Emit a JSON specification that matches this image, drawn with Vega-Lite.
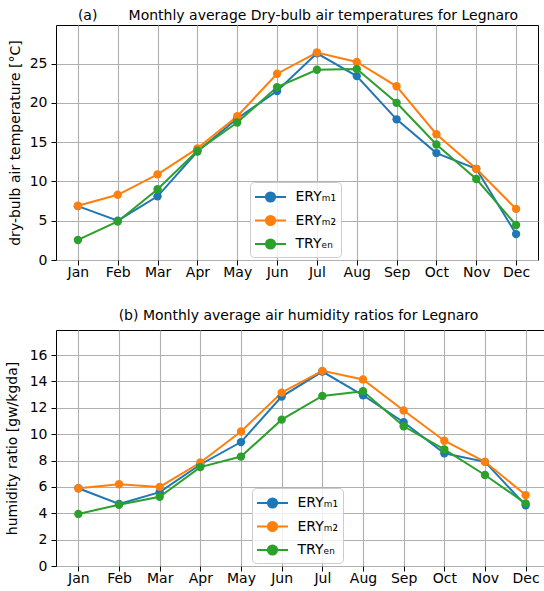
{
  "$schema": "https://vega.github.io/schema/vega-lite/v6.json",
  "padding": {"left": 4, "top": 8, "right": 0, "bottom": 0},
  "spacing": 28,
  "datasets": {
    "temp": [
      {"month": "Jan", "series": "ERYm1", "value": 6.85},
      {"month": "Feb", "series": "ERYm1", "value": 5.0},
      {"month": "Mar", "series": "ERYm1", "value": 8.1},
      {"month": "Apr", "series": "ERYm1", "value": 13.8},
      {"month": "May", "series": "ERYm1", "value": 18.0},
      {"month": "Jun", "series": "ERYm1", "value": 21.5},
      {"month": "Jul", "series": "ERYm1", "value": 26.3},
      {"month": "Aug", "series": "ERYm1", "value": 23.4},
      {"month": "Sep", "series": "ERYm1", "value": 17.9},
      {"month": "Oct", "series": "ERYm1", "value": 13.6},
      {"month": "Nov", "series": "ERYm1", "value": 11.6},
      {"month": "Dec", "series": "ERYm1", "value": 3.3},
      {"month": "Jan", "series": "ERYm2", "value": 6.9},
      {"month": "Feb", "series": "ERYm2", "value": 8.3},
      {"month": "Mar", "series": "ERYm2", "value": 10.9},
      {"month": "Apr", "series": "ERYm2", "value": 14.2},
      {"month": "May", "series": "ERYm2", "value": 18.3},
      {"month": "Jun", "series": "ERYm2", "value": 23.7},
      {"month": "Jul", "series": "ERYm2", "value": 26.4},
      {"month": "Aug", "series": "ERYm2", "value": 25.2},
      {"month": "Sep", "series": "ERYm2", "value": 22.1},
      {"month": "Oct", "series": "ERYm2", "value": 16.0},
      {"month": "Nov", "series": "ERYm2", "value": 11.6},
      {"month": "Dec", "series": "ERYm2", "value": 6.5},
      {"month": "Jan", "series": "TRYEN", "value": 2.55},
      {"month": "Feb", "series": "TRYEN", "value": 4.9},
      {"month": "Mar", "series": "TRYEN", "value": 9.0},
      {"month": "Apr", "series": "TRYEN", "value": 13.9},
      {"month": "May", "series": "TRYEN", "value": 17.5},
      {"month": "Jun", "series": "TRYEN", "value": 22.0},
      {"month": "Jul", "series": "TRYEN", "value": 24.2},
      {"month": "Aug", "series": "TRYEN", "value": 24.3},
      {"month": "Sep", "series": "TRYEN", "value": 20.0},
      {"month": "Oct", "series": "TRYEN", "value": 14.7},
      {"month": "Nov", "series": "TRYEN", "value": 10.3},
      {"month": "Dec", "series": "TRYEN", "value": 4.45}
    ],
    "hum": [
      {"month": "Jan", "series": "ERYm1", "value": 5.9},
      {"month": "Feb", "series": "ERYm1", "value": 4.7},
      {"month": "Mar", "series": "ERYm1", "value": 5.6},
      {"month": "Apr", "series": "ERYm1", "value": 7.7},
      {"month": "May", "series": "ERYm1", "value": 9.4},
      {"month": "Jun", "series": "ERYm1", "value": 12.85},
      {"month": "Jul", "series": "ERYm1", "value": 14.75},
      {"month": "Aug", "series": "ERYm1", "value": 12.95},
      {"month": "Sep", "series": "ERYm1", "value": 10.9},
      {"month": "Oct", "series": "ERYm1", "value": 8.55},
      {"month": "Nov", "series": "ERYm1", "value": 7.9},
      {"month": "Dec", "series": "ERYm1", "value": 4.6},
      {"month": "Jan", "series": "ERYm2", "value": 5.9},
      {"month": "Feb", "series": "ERYm2", "value": 6.2},
      {"month": "Mar", "series": "ERYm2", "value": 6.0},
      {"month": "Apr", "series": "ERYm2", "value": 7.85},
      {"month": "May", "series": "ERYm2", "value": 10.2},
      {"month": "Jun", "series": "ERYm2", "value": 13.15},
      {"month": "Jul", "series": "ERYm2", "value": 14.8},
      {"month": "Aug", "series": "ERYm2", "value": 14.15},
      {"month": "Sep", "series": "ERYm2", "value": 11.8},
      {"month": "Oct", "series": "ERYm2", "value": 9.5},
      {"month": "Nov", "series": "ERYm2", "value": 7.9},
      {"month": "Dec", "series": "ERYm2", "value": 5.38},
      {"month": "Jan", "series": "TRYEN", "value": 3.95},
      {"month": "Feb", "series": "TRYEN", "value": 4.65},
      {"month": "Mar", "series": "TRYEN", "value": 5.25},
      {"month": "Apr", "series": "TRYEN", "value": 7.5},
      {"month": "May", "series": "TRYEN", "value": 8.3},
      {"month": "Jun", "series": "TRYEN", "value": 11.1},
      {"month": "Jul", "series": "TRYEN", "value": 12.9},
      {"month": "Aug", "series": "TRYEN", "value": 13.25},
      {"month": "Sep", "series": "TRYEN", "value": 10.6},
      {"month": "Oct", "series": "TRYEN", "value": 8.85},
      {"month": "Nov", "series": "TRYEN", "value": 6.9},
      {"month": "Dec", "series": "TRYEN", "value": 4.75}
    ]
  },
  "resolve": {"legend": {"color": "independent"}},
  "vconcat": [
    {
      "width": 482,
      "height": 235,
      "data": {"name": "temp"},
      "title": {"text": "(a)\u00a0\u00a0\u00a0\u00a0\u00a0\u00a0\u00a0Monthly average Dry-bulb air temperatures for Legnaro", "baseline": "bottom", "offset": -12, "dx": 1},
      "mark": {"type": "line", "strokeWidth": 2, "point": {"filled": true, "size": 70, "opacity": 1}},
      "encoding": {
        "x": {"field": "month", "type": "ordinal", "sort": ["Jan","Feb","Mar","Apr","May","Jun","Jul","Aug","Sep","Oct","Nov","Dec"], "scale": {"type": "point", "padding": 0.55}, "axis": {"title": null, "labelAngle": 0, "labelPadding": 0}},
        "y": {"field": "value", "type": "quantitative", "scale": {"domain": [0, 29.9], "nice": false}, "axis": {"values": [0,5,10,15,20,25], "title": "dry-bulb air temperature [°C]", "titlePadding": 7}},
        "color": {"field": "series", "type": "nominal", "scale": {"domain": ["ERYm1","ERYm2","TRYEN"], "range": ["#1f77b4","#ff7f0e","#2ca02c"]},
          "legend": {"legendX": 194, "legendY": 157, "labelExpr": "datum.label == 'ERYm1' ? 'ERYₘ₁' : datum.label == 'ERYm2' ? 'ERYₘ₂' : 'TRYₑₙ'"}},
        "order": {"value": null}
      }
    },
    {
      "width": 492,
      "height": 236,
      "data": {"name": "hum"},
      "title": {"text": "(b) Monthly average air humidity ratios for Legnaro", "baseline": "bottom", "offset": -7, "dx": -3.5},
      "mark": {"type": "line", "strokeWidth": 2, "point": {"filled": true, "size": 70, "opacity": 1}},
      "encoding": {
        "x": {"field": "month", "type": "ordinal", "sort": ["Jan","Feb","Mar","Apr","May","Jun","Jul","Aug","Sep","Oct","Nov","Dec"], "scale": {"type": "point", "padding": 0.55}, "axis": {"title": null, "labelAngle": 0, "labelPadding": 0}},
        "y": {"field": "value", "type": "quantitative", "scale": {"domain": [0, 17.9], "nice": false}, "axis": {"values": [0,2,4,6,8,10,12,14,16], "title": "humidity ratio [gw/kgda]", "titlePadding": 10}},
        "color": {"field": "series", "type": "nominal", "scale": {"domain": ["ERYm1","ERYm2","TRYEN"], "range": ["#1f77b4","#ff7f0e","#2ca02c"]},
          "legend": {"legendX": 196, "legendY": 158, "labelExpr": "datum.label == 'ERYm1' ? 'ERYₘ₁' : datum.label == 'ERYm2' ? 'ERYₘ₂' : 'TRYₑₙ'"}},
        "order": {"value": null}
      }
    }
  ],
  "config": {
    "font": "DejaVu Sans",
    "view": {"stroke": "#000000", "strokeWidth": 1},
    "axis": {"labelFont": "DejaVu Sans", "labelFontSize": 14, "labelColor": "#000000", "titleFont": "DejaVu Sans", "titleFontSize": 14, "titleFontWeight": "normal", "titleColor": "#000000", "tickColor": "#000000", "tickSize": 5, "tickWidth": 1, "domain": false, "grid": true, "gridColor": "#b0b0b0", "gridWidth": 1.1, "labelPadding": 4},
    "title": {"font": "DejaVu Sans", "fontSize": 14, "fontWeight": "normal", "color": "#000000"},
    "legend": {
      "orient": "none",
      "title": null,
      "labelFont": "DejaVu Sans",
      "labelFontSize": 14,
      "labelColor": "#000000",
      "symbolType": "M-1.55,0L1.55,0M0.46,0A0.46,0.46,0,1,1,-0.46,0A0.46,0.46,0,1,1,0.46,0Z",
      "symbolSize": 400,
      "symbolStrokeWidth": 2,
      "symbolOpacity": 1,
      "symbolOffset": 5.5,
      "labelOffset": 14,
      "rowPadding": 3.5,
      "padding": 4,
      "fillColor": "rgba(255,255,255,0.8)",
      "strokeColor": "#cccccc",
      "cornerRadius": 4
    }
  }
}
